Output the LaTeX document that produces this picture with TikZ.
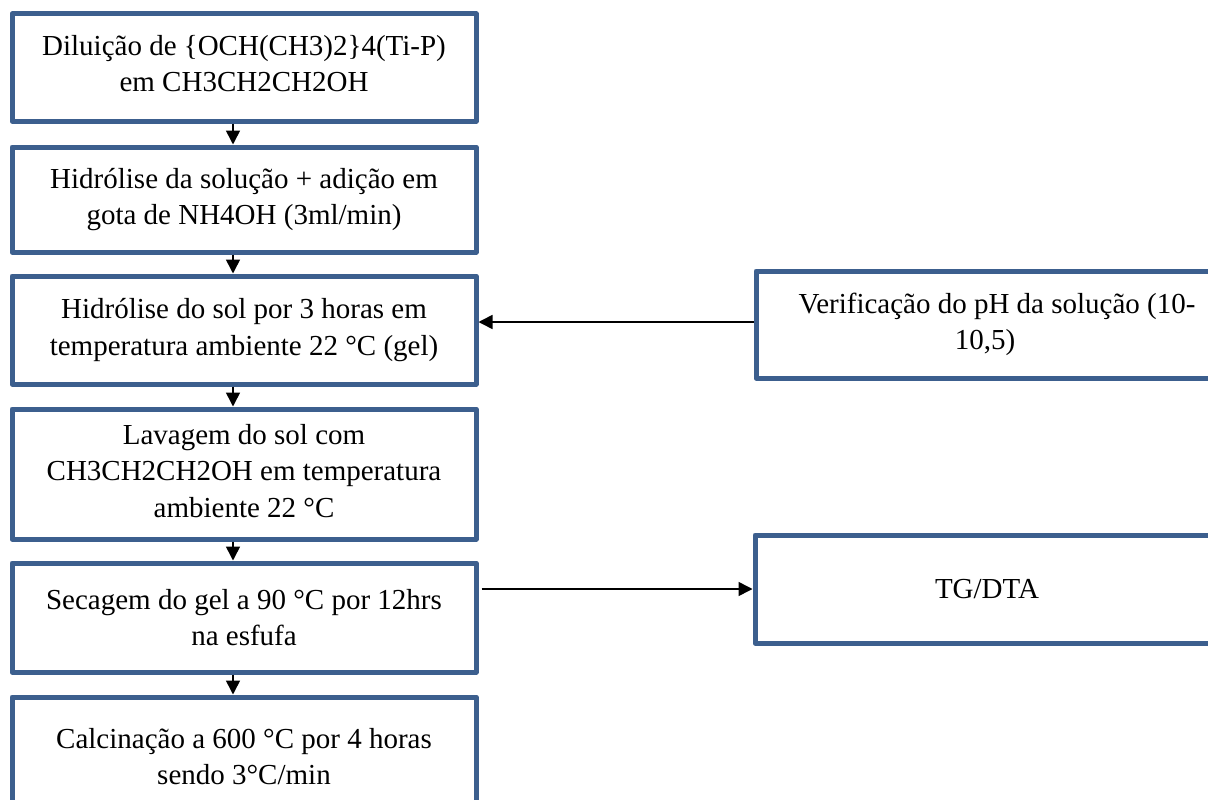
\documentclass[tikz,border=0pt]{standalone}
\usepackage{fontspec}
\setmainfont{Liberation Serif}
\usetikzlibrary{arrows.meta}
\definecolor{boxblue}{RGB}{60,95,142}
\begin{document}
\begin{tikzpicture}[x=1pt,y=-1pt,
  box/.style={draw=boxblue, line width=5pt, line join=round, fill=white,
    minimum width=464pt, inner sep=0pt},
  sidebox/.style={box, minimum width=458pt},
  boxtext/.style={inner sep=0pt, align=center,
    font=\fontsize{29}{36.5}\selectfont},
  flow/.style={line width=1.6pt, -{Triangle[length=14pt,width=14pt]}}]
\useasboundingbox (0,0) rectangle (1208,800);
\clip (0,0) rectangle (1208,800);
\fill[white] (0,0) rectangle (1208,800);

\node[box, minimum height=107pt] (b1) at (244,67.5) {};
\node[boxtext] (t1) at ([yshift=4pt]b1.center) {Diluição de \{OCH(CH3)2\}4(Ti-P)\\em CH3CH2CH2OH};
\node[box, minimum height=105pt] (b2) at (244,199.5) {};
\node[boxtext] (t2) at (b2.center) {Hidrólise da solução + adição em\\gota de NH4OH (3ml/min)};
\node[box, minimum height=108pt] (b3) at (244,330) {};
\node[boxtext] (t3) at (b3.center) {Hidrólise do sol por 3 horas em\\temperatura ambiente 22 °C (gel)};
\node[box, minimum height=130pt] (b4) at (244,474) {};
\node[boxtext] (t4) at ([yshift=3pt]b4.center) {Lavagem do sol com\\CH3CH2CH2OH em temperatura\\ambiente 22 °C};
\node[box, minimum height=109pt] (b5) at (244,617.5) {};
\node[boxtext] (t5) at (b5.center) {Secagem do gel a 90 °C por 12hrs\\na esfufa};
\node[box, minimum height=119pt] (b6) at (244,756.5) {};
\node[boxtext] (t6) at (b6.center) {Calcinação a 600 °C por 4 horas\\sendo 3°C/min};

\node[sidebox, minimum height=107pt] (ph) at (985,324.5) {};
\node[boxtext] (tph) at (ph.center) {\hspace*{24pt}Verificação do pH da solução (10-\\10,5)};
\node[sidebox, minimum height=108pt] (tg) at (984,589) {};
\node[boxtext] (ttg) at ([xshift=3pt]tg.center) {TG/DTA};

\draw[flow] ([xshift=-11pt]b1.south) -- ([xshift=-11pt]b2.north);
\draw[flow] ([xshift=-11pt]b2.south) -- ([xshift=-11pt]b3.north);
\draw[flow] ([xshift=-11pt]b3.south) -- ([xshift=-11pt]b4.north);
\draw[flow] ([xshift=-11pt]b4.south) -- ([xshift=-11pt]b5.north);
\draw[flow] ([xshift=-11pt]b5.south) -- ([xshift=-11pt]b6.north);

\draw[flow] ([yshift=2.5pt]ph.west) -- ([yshift=2.5pt]b3.east |- ph.west);
\draw[flow] ([xshift=3pt]b5.east |- tg.west) -- (tg.west);
\end{tikzpicture}
\end{document}
